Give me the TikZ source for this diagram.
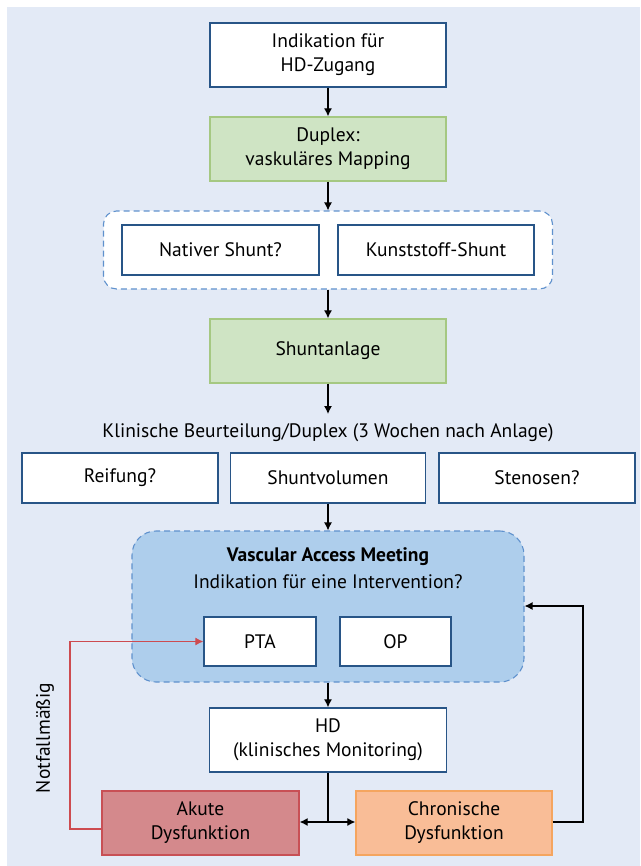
\documentclass[tikz,border=0pt]{standalone}
\usepackage{fontspec}
\setmainfont{PT Sans}
\usetikzlibrary{arrows.meta,calc}
\definecolor{bg}{RGB}{227,234,246}
\definecolor{bbord}{RGB}{40,85,135}
\definecolor{gfill}{RGB}{207,228,196}
\definecolor{gbord}{RGB}{165,200,130}
\definecolor{vfill}{RGB}{174,206,236}
\definecolor{vbord}{RGB}{95,145,205}
\definecolor{afill}{RGB}{212,137,140}
\definecolor{abord}{RGB}{200,80,85}
\definecolor{cfill}{RGB}{249,189,151}
\definecolor{cbord}{RGB}{245,165,95}
\definecolor{redl}{RGB}{205,75,80}
\tikzset{
  base/.style={draw, line width=1.3pt, inner sep=0pt, align=center, font=\fontsize{19.5}{24}\selectfont},
  wbox/.style={base, fill=white, draw=bbord},
  gbox/.style={base, fill=gfill, draw=gbord},
  abox/.style={base, fill=afill, draw=abord},
  cbox/.style={base, fill=cfill, draw=cbord},
  conn/.style={line width=1.2pt, -{Latex[length=8pt,width=8pt]}},
  plain/.style={line width=1.2pt},
  redconn/.style={line width=1.1pt, draw=redl, -{Latex[length=8pt,width=8pt]}},
  txt/.style={font=\fontsize{19.5}{24}\selectfont, inner sep=0pt, align=center}
}
\begin{document}
\begin{tikzpicture}[x=1pt,y=-1pt]
\useasboundingbox (0,0) rectangle (640,866);
\fill[bg] (7,7) rectangle (640,866);

\node[wbox, minimum width=236pt, minimum height=64pt] (b1) at (328,55) {Indikation für\\HD-Zugang};
\node[gbox, minimum width=236pt, minimum height=64pt] (b2) at (328,149) {Duplex:\\vaskuläres Mapping};

\node[draw=vbord, fill=white, dashed, dash pattern=on 6pt off 4pt, line width=1.1pt, rounded corners=13pt, minimum width=449pt, minimum height=78pt, inner sep=0pt] (grp) at (328,250) {};
\node[wbox, minimum width=197pt, minimum height=50pt] (nat) at (220.5,250) {Nativer Shunt?};
\node[wbox, minimum width=196pt, minimum height=50pt] (kun) at (436,250) {Kunststoff-Shunt};

\node[gbox, minimum width=236pt, minimum height=64pt] (sa) at (328,351) {Shuntanlage};

\coordinate (kt) at (328,414);
\node[txt] (klin) at (328,433) {Klinische Beurteilung/Duplex (3 Wochen nach Anlage)};

\node[wbox, minimum width=196pt, minimum height=50pt] (reif) at (120,478) {Reifung?};
\node[wbox, minimum width=195pt, minimum height=50pt] (svol) at (328,478) {Shuntvolumen};
\node[wbox, minimum width=196pt, minimum height=50pt] (sten) at (537,478) {Stenosen?};

\node[draw=vbord, fill=vfill, dashed, dash pattern=on 6pt off 4pt, line width=1.1pt, rounded corners=24pt, minimum width=392pt, minimum height=151pt, inner sep=0pt] (vam) at (328,606.5) {};
\node[txt] (vt1) at (328,557) {\bfseries Vascular Access Meeting};
\node[txt] (vt2) at (328,582) {Indikation für eine Intervention?};
\node[wbox, minimum width=112pt, minimum height=49pt] (pta) at (260,641.5) {PTA};
\node[wbox, minimum width=111pt, minimum height=49pt] (op) at (395.5,641.5) {OP};

\node[wbox, minimum width=237pt, minimum height=64pt] (hd) at (328,740) {HD\\(klinisches Monitoring)};

\node[abox, minimum width=197pt, minimum height=64pt] (ak) at (200.5,823) {Akute\\Dysfunktion};
\node[cbox, minimum width=196pt, minimum height=64pt] (ch) at (454,823) {Chronische\\Dysfunktion};

\node[txt, rotate=90] (nf) at (45,738) {Notfallmäßig};

\coordinate (j) at (328,822);
\coordinate (lr1) at (583,822);
\coordinate (lr2) at (583,606);
\coordinate (rl1) at (70,829);
\coordinate (rl2) at (70,641.5);

\draw[conn] (b1.south) -- (b2.north);
\draw[conn] (b2.south) -- (grp.north);
\draw[conn] (grp.south) -- (sa.north);
\draw[conn] (sa.south) -- (kt);
\draw[conn] (svol.south) -- (vam.north);
\draw[conn] (vam.south) -- (hd.north);
\draw[plain] (hd.south) -- (j);
\draw[conn] (j) -- (j -| ak.east);
\draw[conn] (j) -- (j -| ch.west);
\draw[conn] (ch.east |- lr1) -- (lr1) -- (lr2) -- (vam.east |- lr2);
\draw[redconn] (ak.west |- rl1) -- (rl1) -- (rl2) -- (pta.west);
\end{tikzpicture}
\end{document}
